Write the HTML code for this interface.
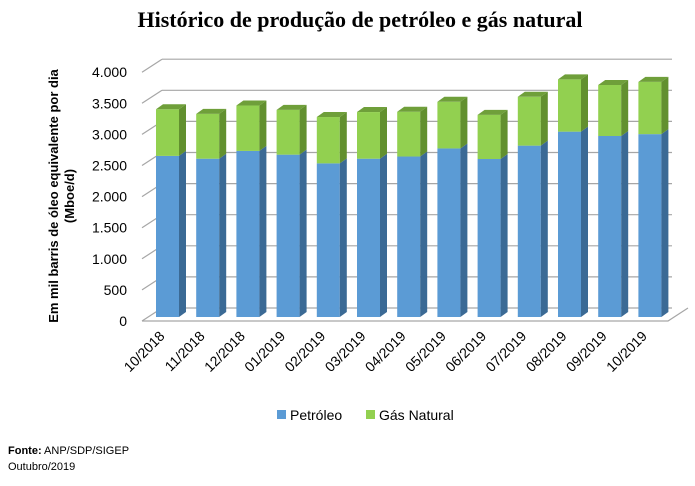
<!DOCTYPE html>
<html><head><meta charset="utf-8"><style>
body{margin:0;background:#fff;width:695px;height:486px;overflow:hidden;font-family:"Liberation Sans",sans-serif}
svg{position:absolute;left:0;top:0}
</style></head><body>
<svg id="c" width="695" height="486"></svg>
<script>
const categories=["10/2018","11/2018","12/2018","01/2019","02/2019","03/2019","04/2019","05/2019","06/2019","07/2019","08/2019","09/2019","10/2019"];
const petroleo=[2590,2545,2670,2610,2470,2545,2580,2710,2540,2755,2980,2910,2940];
const gas=[750,720,730,720,745,750,720,750,710,785,840,820,840];
const yTicks=[0,500,1000,1500,2000,2500,3000,3500,4000];
const yTickLabels=["0","500","1.000","1.500","2.000","2.500","3.000","3.500","4.000"];
const NS="http://www.w3.org/2000/svg";
const svg=document.getElementById('c');
function el(t,a,p){const e=document.createElementNS(NS,t);for(const k in a)e.setAttribute(k,a[k]);(p||svg).appendChild(e);return e;}
const base=317, k=31.1/500, dx=20, dy=12;
function y(v){return base-v*k;}
function yL(v){return 321-v*k;}
function x(i){return 156+i*40.2;}
let t=el('text',{x:360,y:27,'text-anchor':'middle','font-family':'Liberation Serif, serif','font-weight':'bold','font-size':'22'});
t.textContent='Histórico de produção de petróleo e gás natural';

yTicks.forEach((v,i)=>{
 const g=el('line',{x1:162,y1:yL(v)-13,x2:672,y2:yL(v)-13,stroke:'#a6a6a6','stroke-width':1.2});
 
 el('line',{x1:142,y1:yL(v),x2:162,y2:yL(v)-13,stroke:'#a6a6a6','stroke-width':1.2});
 const l=el('text',{x:127,y:yL(v)+5,'text-anchor':'end','font-size':'14'});
 l.textContent=yTickLabels[i];
 
});
el('polyline',{points:`142,321 668,321 688,308`,fill:'none',stroke:'#a6a6a6','stroke-width':1.2});
const w=23,sd=7,td=5;
categories.forEach((c,i)=>{
 const x0=x(i), yb=y(0), yo=y(petroleo[i]), yt=y(petroleo[i]+gas[i]);
 const g=el('g',{});
 
 el('rect',{x:x0,y:yo,width:w,height:yb-yo,fill:'#5b9bd5'},g);
 el('polygon',{points:`${x0+w},${yb} ${x0+w+sd},${yb-td} ${x0+w+sd},${yo-td} ${x0+w},${yo}`,fill:'#3b6a95'},g);
 el('rect',{x:x0,y:yt,width:w,height:yo-yt,fill:'#92d050'},g);
 el('polygon',{points:`${x0+w},${yo} ${x0+w+sd},${yo-td} ${x0+w+sd},${yt-td} ${x0+w},${yt}`,fill:'#62902f'},g);
 el('polygon',{points:`${x0},${yt} ${x0+sd},${yt-td} ${x0+w+sd},${yt-td} ${x0+w},${yt}`,fill:'#6f9f3a'},g);
 const cx=x0+w/2-2, ly=337;
 const l=el('text',{x:cx,y:ly,'text-anchor':'end','font-size':'14',transform:`rotate(-45 ${cx} ${ly})`});
 l.textContent=c;
 
});
const at=el('text',{transform:'translate(58,196) rotate(-90)','text-anchor':'middle','font-size':'13','font-weight':'bold'});

el('tspan',{x:0,y:0},at).textContent='Em mil barris de óleo equivalente por dia';
el('tspan',{x:0,y:16},at).textContent='(Mboe/d)';
const lg=el('g',{});
el('rect',{x:277,y:410,width:9,height:9,fill:'#5b9bd5'},lg);
let lt=el('text',{x:290,y:420,'font-size':'14'},lg);lt.textContent='Petróleo';
el('rect',{x:366,y:410,width:9,height:9,fill:'#92d050'},lg);
lt=el('text',{x:379,y:420,'font-size':'14'},lg);lt.textContent='Gás Natural';
const f=el('text',{x:8,y:454,'font-size':'11'});
el('tspan',{'font-weight':'bold'},f).textContent='Fonte:';
el('tspan',{},f).textContent=' ANP/SDP/SIGEP';
const f2=el('text',{x:8,y:470,'font-size':'11'});f2.textContent='Outubro/2019';

</script>
</body></html>
